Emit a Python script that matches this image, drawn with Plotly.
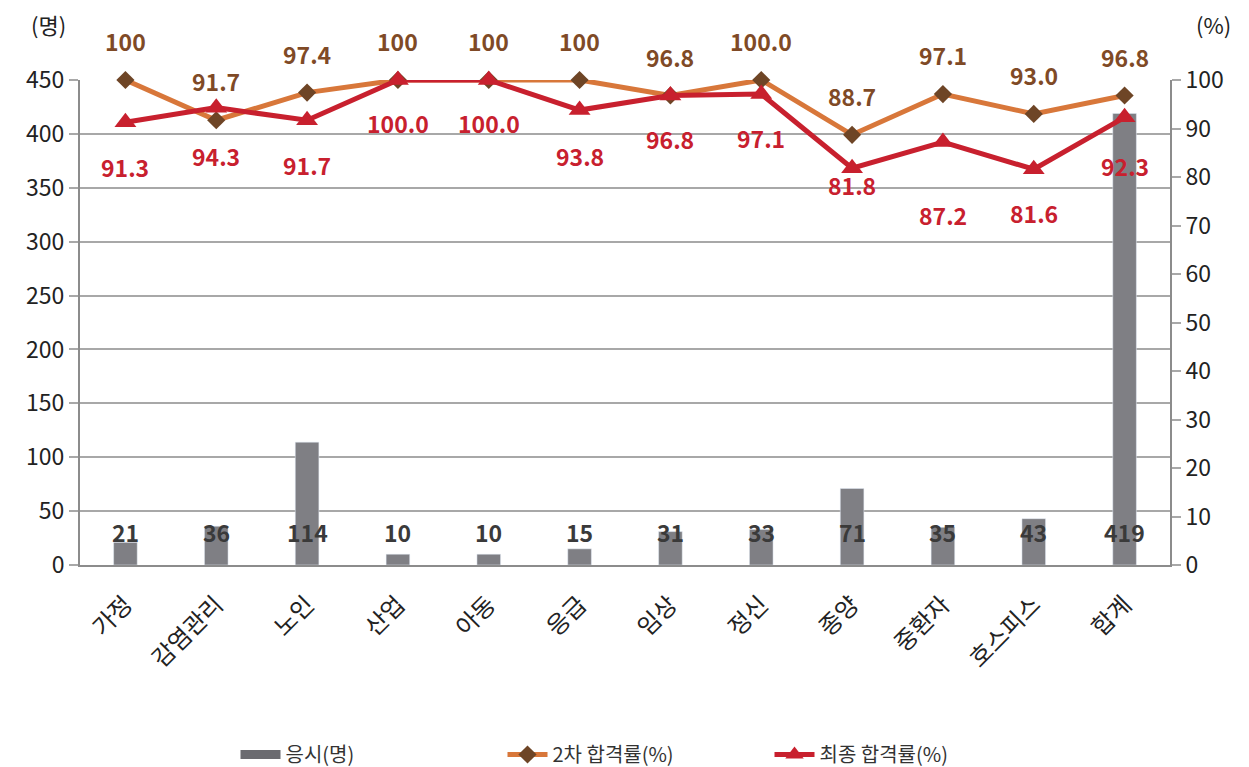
import plotly.graph_objects as go

categories = ["가정", "감염관리", "노인", "산업", "아동", "응급", "임상", "정신", "종양", "중환자", "호스피스", "합계"]
applicants = [21, 36, 114, 10, 10, 15, 31, 33, 71, 35, 43, 419]
second_rate = [100, 91.7, 97.4, 100, 100, 100, 96.8, 100.0, 88.7, 97.1, 93.0, 96.8]
second_labels = ["100", "91.7", "97.4", "100", "100", "100", "96.8", "100.0", "88.7", "97.1", "93.0", "96.8"]
final_rate = [91.3, 94.3, 91.7, 100.0, 100.0, 93.8, 96.8, 97.1, 81.8, 87.2, 81.6, 92.3]
final_labels = ["91.3", "94.3", "91.7", "100.0", "100.0", "93.8", "96.8", "97.1", "81.8", "87.2", "81.6", "92.3"]

# label offsets (pixels) - style only
final_shift = [-45, -48, -45, -43, -43, -46, -43, -44, -17, -73, -44, -49]

FONT = "Noto Sans CJK KR"
GRAY = "#7f7f84"
ORANGE = "#d8773a"
BROWN = "#6e4526"
RED = "#c8202e"
BROWN_TXT = "#7f4a26"

OFF = 8  # page body margin
SW, SH = 1249, 767
W, H = SW - OFF, SH - OFF
# desired screen-space plot box: x 80..1170, y 80..565
L, R, T, B = 80 - OFF, (W + OFF) - 1170, 80 - OFF, (H + OFF) - 565
pw, ph = W - L - R, H - T - B


def px_to_paper(sx, sy):
    fx, fy = sx - OFF, sy - OFF
    return (fx - L) / pw, (H - B - fy) / ph


fig = go.Figure()

fig.add_trace(go.Bar(
    x=categories, y=applicants, marker_color=GRAY, name="응시(명)",
    showlegend=False, yaxis="y", width=0.26,
))
fig.add_trace(go.Scatter(
    x=[None], y=[None], mode="lines", line=dict(color="#6b6b70", width=9),
    name="응시(명)", yaxis="y",
))
fig.add_trace(go.Scatter(
    x=categories, y=second_rate, mode="lines+markers", name="2차 합격률(%)",
    line=dict(color=ORANGE, width=5),
    marker=dict(symbol="diamond", size=14, color=BROWN),
    yaxis="y2", cliponaxis=False,
))
fig.add_trace(go.Scatter(
    x=categories, y=final_rate, mode="lines+markers", name="최종 합격률(%)",
    line=dict(color=RED, width=5),
    marker=dict(symbol="triangle-up", size=19, color=RED),
    yaxis="y2", cliponaxis=False,
))

annotations = []
for c, v, t in zip(categories, second_rate, second_labels):
    annotations.append(dict(x=c, y=v, xref="x", yref="y2", text=f"<b>{t}</b>", showarrow=False,
                            yshift=39, font=dict(family=FONT, size=23, color=BROWN_TXT)))
for c, v, t, s in zip(categories, final_rate, final_labels, final_shift):
    annotations.append(dict(x=c, y=v, xref="x", yref="y2", text=f"<b>{t}</b>", showarrow=False,
                            yshift=s, font=dict(family=FONT, size=23, color=RED)))
for c, v in zip(categories, applicants):
    annotations.append(dict(x=c, y=0, xref="x", yref="y", text=f"<b>{v}</b>", showarrow=False,
                            yshift=33, font=dict(family=FONT, size=23, color="#3a3a3a")))
for sx, sy, txt in [(48, 24, "(명)"), (1213, 24, "(%)")]:
    ax, ay = px_to_paper(sx, sy)
    annotations.append(dict(x=ax, y=ay, xref="paper", yref="paper",
                            text=txt, showarrow=False, xanchor="center", yanchor="middle",
                            font=dict(family=FONT, size=22, color="#222")))

_, leg_y = px_to_paper(0, 735)
leg_x, _ = px_to_paper(636, 0)

fig.update_layout(
    width=W, height=H,
    margin=dict(l=L, r=R, t=T, b=B, autoexpand=False),
    plot_bgcolor="white", paper_bgcolor="white",
    font=dict(family=FONT, size=23, color="#222"),
    bargap=0.74,
    xaxis=dict(type="category", tickangle=-45, showline=True, linecolor="#8c8c8c", linewidth=2,
               ticks="", showgrid=False, automargin=False, range=[-0.5, len(categories) - 0.5],
               ticklabelstandoff=14,
               tickfont=dict(size=24, family=FONT, color="#222")),
    yaxis=dict(range=[0, 450], dtick=50, showgrid=True, gridcolor="#a8a8a8", gridwidth=2,
               showline=True, linecolor="#8c8c8c", linewidth=2, ticks="outside", ticklen=9,
               tickcolor="#a8a8a8", tickwidth=2, zeroline=False, automargin=False,
               tickfont=dict(size=23, family=FONT, color="#222")),
    yaxis2=dict(range=[0, 100], dtick=10, overlaying="y", side="right", showgrid=False,
                showline=True, linecolor="#8c8c8c", linewidth=2, ticks="outside", ticklen=9,
                tickcolor="#a8a8a8", tickwidth=2, zeroline=False, automargin=False,
                tickfont=dict(size=23, family=FONT, color="#222")),
    legend=dict(orientation="h", x=leg_x, xanchor="center", y=leg_y, yanchor="top",
                font=dict(family=FONT, size=20, color="#333"), itemwidth=40,
                entrywidth=212, entrywidthmode="pixels", traceorder="normal"),
    annotations=annotations,
)

fig.write_html("out.html")
